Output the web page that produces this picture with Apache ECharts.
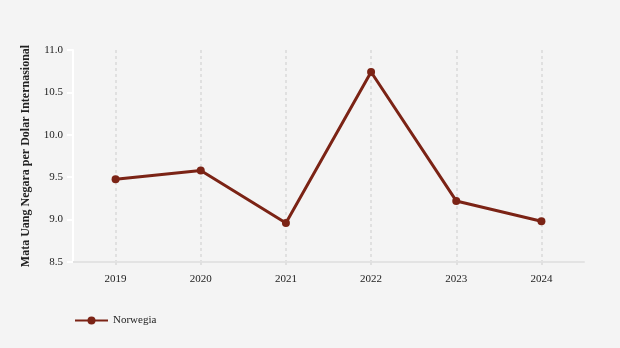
<!DOCTYPE html>
<html><head><meta charset="utf-8">
<script src="https://cdn.jsdelivr.net/npm/echarts@6/dist/echarts.min.js"></script>
<style>html,body{margin:0;padding:0;background:#f4f4f4}#c{width:620px;height:348px}</style>
</head><body><div id="c"></div>
<script>
const categories = ['2019','2020','2021','2022','2023','2024'];
const norwegia = [9.475, 9.58, 8.96, 10.74, 9.22, 8.98];
const seriesName = 'Norwegia';
const yAxisName = 'Mata Uang Negara per Dolar Internasional';

const chart = echarts.init(document.getElementById('c'));
const font = 'Liberation Serif';
chart.setOption({
  backgroundColor: '#f4f4f4',
  textStyle: {fontFamily: font},
  grid: {left: 73, right: 36, top: 50, bottom: 86},
  legend: {
    left: 69, top: 310, itemWidth: 33, itemHeight: 10, itemGap: 5,
    textStyle: {fontFamily: font, fontSize: 11, color: '#222'},
    data: [seriesName]
  },
  xAxis: {
    type: 'category', data: categories,
    axisLine: {lineStyle: {color: '#e3e3e3', width: 2}},
    axisTick: {show: true, alignWithLabel: true, length: 5, lineStyle: {color: '#e0e0e0', type: [3, 3], width: 2}},
    splitLine: {show: true, alignWithLabel: true, lineStyle: {color: '#e0e0e0', type: [3, 3], width: 2}},
    axisLabel: {color: '#222', fontSize: 11, fontFamily: font, margin: 12}
  },
  yAxis: {
    type: 'value', min: 8.5, max: 11, interval: 0.5,
    name: yAxisName, nameLocation: 'middle', nameGap: 41,
    nameTextStyle: {fontFamily: font, fontWeight: 'bold', fontSize: 12, color: '#222'},
    axisLine: {show: true, lineStyle: {color: '#ffffff', width: 2}},
    axisTick: {show: true, length: 6, lineStyle: {color: '#ffffff', width: 2}},
    splitLine: {show: false},
    axisLabel: {color: '#222', fontSize: 11, fontFamily: font, margin: 10, formatter: v => v.toFixed(1)}
  },
  series: [{
    name: seriesName, type: 'line', data: norwegia,
    symbol: 'circle', symbolSize: 8,
    lineStyle: {color: '#7b2315', width: 3},
    itemStyle: {color: '#7b2315'}
  }]
});
</script></body></html>
